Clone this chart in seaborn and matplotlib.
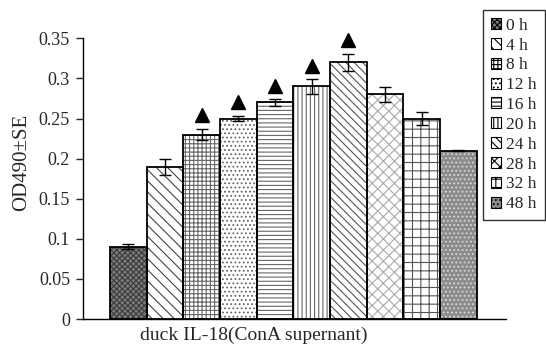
import numpy as np
import pandas as pd
import matplotlib
matplotlib.use("Agg")
import matplotlib.pyplot as plt
import seaborn as sns
from matplotlib.patches import Patch, Rectangle

# adatok
times = ["0 h", "4 h", "8 h", "12 h", "16 h", "20 h", "24 h", "28 h", "32 h", "48 h"]
od490 = [0.09, 0.19, 0.23, 0.25, 0.27, 0.29, 0.32, 0.28, 0.25, 0.21]
se = [0.003, 0.010, 0.007, 0.003, 0.004, 0.009, 0.011, 0.009, 0.008, 0.0005]
significant = [False, False, True, True, True, True, True, False, False, False]

hatches = ["xxxxxx", "\\\\\\", "++++", "....", "----", "||||", "\\\\\\\\", "xxx", "++", "...."]
fills = ["#7c7c7c", "white", "white", "white", "white", "white", "white", "white", "white", "#8c8c8c"]
hcolors = ["#3a3a3a", "#444444", "#666666", "#666666", "#666666", "#666666", "#555555", "#aaaaaa", "#555555", "#d8d8d8"]

data = pd.DataFrame({"time": times, "od": od490, "se": se})

sns.set_style("white")
plt.rcParams['font.family'] = ['Liberation Serif', 'DejaVu Serif']
plt.rcParams['hatch.linewidth'] = 0.8

fig = plt.figure(figsize=(5.46, 3.46), dpi=100)
ax = fig.add_axes([82.6 / 546, 1 - 319 / 346, (506 - 82.6) / 546, (319 - 38.3) / 346])

sns.barplot(data=data, x="time", y="od", hue="time", width=1.0, legend=False,
            palette=fills, linewidth=0, errorbar=None, ax=ax)

# sraffozás szürkén, körvonal feketén (külön téglalap)
for bar, h, f, hc in zip(list(ax.patches), hatches, fills, hcolors):
    bar.set_hatch(h)
    bar.set_facecolor(f)
    bar.set_edgecolor(hc)
    bar.set_linewidth(0)
    ax.add_patch(Rectangle((bar.get_x(), bar.get_y()), bar.get_width(), bar.get_height(),
                           fill=False, edgecolor="black", linewidth=1.3, zorder=bar.get_zorder() + 0.1))

x = np.arange(len(times))
ax.errorbar(x, od490, yerr=se, fmt="none", ecolor="black", elinewidth=1, capsize=4, capthick=1, zorder=5)
for i in range(len(times)):
    if significant[i]:
        ax.plot(i, od490[i] + se[i] + 0.017, marker="^", color="black", markersize=10,
                clip_on=False, zorder=6)

ax.set_xlim(-1.25, 10.3)
ax.set_ylim(0, 0.35)
ax.set_yticks([0, 0.05, 0.1, 0.15, 0.2, 0.25, 0.3, 0.35])
ax.set_yticklabels(["0", "0.05", "0.1", "0.15", "0.2", "0.25", "0.3", "0.35"])
ax.tick_params(axis="y", direction="out", length=5, width=1, labelsize=13, pad=4, left=True)
ax.set_xticks([])
ax.set_xlabel("")
ax.set_ylabel("")
sns.despine(ax=ax, top=True, right=True)
for s in ["left", "bottom"]:
    ax.spines[s].set_color("black")
    ax.spines[s].set_linewidth(1)

fig.text(254 / 546, 1 - 335 / 346, "duck IL-18(ConA supernant)", ha="center", va="center", fontsize=14)
fig.text(22 / 546, 1 - 162 / 346, "OD490\u00b1SE", ha="center", va="center", rotation=90, fontsize=15)

handles = [Patch(facecolor=f, edgecolor="black", hatch=h, linewidth=0.8) for h, f in zip(hatches, fills)]
leg = fig.legend(handles, times, loc="upper left", bbox_to_anchor=(483 / 546, 1 - 10 / 346),
                 frameon=True, fancybox=False, fontsize=12.5, handlelength=0.6, handleheight=0.6,
                 handletextpad=0.3, labelspacing=0.22, borderpad=0.45, borderaxespad=0)
leg.get_frame().set_edgecolor("black")
leg.get_frame().set_linewidth(1)

fig.savefig("out.png", dpi=100)
